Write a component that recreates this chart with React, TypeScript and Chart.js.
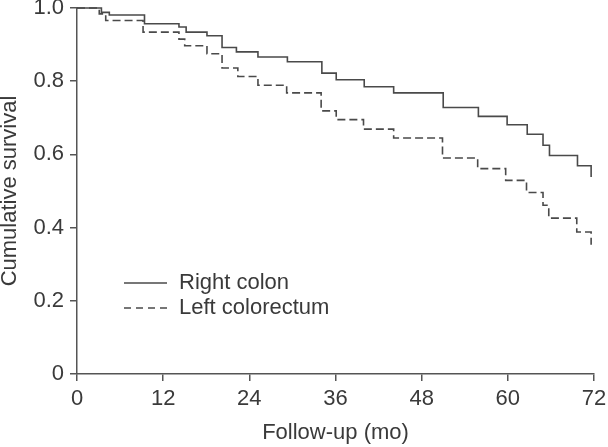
import React, { useEffect, useRef } from "react";
import { Chart, registerables } from "chart.js";

Chart.register(...registerables);

const rightTimes = [0, 3.4, 4.5, 9.4, 14.2, 15.2, 18.1, 20.2, 22.2, 25.2, 29.3, 34.1, 36.1, 40.0, 44.1, 51.0, 55.9, 59.9, 62.7, 64.9, 65.8, 69.7, 71.6];
const rightSurvival = [1.0, 0.988, 0.981, 0.957, 0.948, 0.934, 0.924, 0.892, 0.88, 0.866, 0.853, 0.822, 0.804, 0.785, 0.768, 0.728, 0.704, 0.681, 0.655, 0.625, 0.597, 0.569, 0.538];

const leftTimes = [0, 3.1, 4.0, 9.2, 14.2, 15.0, 18.1, 20.2, 22.4, 25.2, 29.2, 34.0, 36.1, 39.9, 44.1, 50.9, 55.8, 59.7, 62.6, 64.9, 65.7, 69.6, 71.6];
const leftSurvival = [1.0, 0.984, 0.966, 0.934, 0.915, 0.897, 0.875, 0.836, 0.813, 0.789, 0.768, 0.719, 0.695, 0.669, 0.645, 0.59, 0.561, 0.529, 0.496, 0.461, 0.426, 0.388, 0.353];

const seriesNames = ["Right colon", "Left colorectum"];
const xTitle = "Follow-up (mo)";
const yTitle = "Cumulative survival";
const xTickValues = [0, 12, 24, 36, 48, 60, 72];

const FONT = "'Liberation Sans', Arial, sans-serif";
const FS = 22;
const TEXT = "#3a3a3a";
const LINE = "#4a4a4a";
const AXIS = "#555555";

const legendPlugin = {
  id: "innerLegend",
  afterDraw(chart: any) {
    const { ctx, chartArea } = chart;
    const x0 = chartArea.left + 47;
    const x1 = chartArea.left + 90;
    const tx = chartArea.left + 102;
    const rows = [chartArea.top + 275, chartArea.top + 300];
    ctx.save();
    chart.data.datasets.forEach((ds: any, i: number) => {
      const y = rows[i];
      ctx.beginPath();
      ctx.strokeStyle = ds.borderColor;
      ctx.lineWidth = 1.6;
      ctx.setLineDash(i === 1 ? [7, 5] : []);
      ctx.moveTo(x0, y);
      ctx.lineTo(x1, y);
      ctx.stroke();
      ctx.setLineDash([]);
      ctx.fillStyle = TEXT;
      ctx.font = `${FS}px ${FONT}`;
      ctx.textAlign = "left";
      ctx.textBaseline = "middle";
      ctx.fillText(ds.label, tx, y);
    });
    ctx.restore();
  },
};

export default function App() {
  const ref = useRef<HTMLCanvasElement>(null);
  useEffect(() => {
    if (!ref.current) return;
    const chart = new Chart(ref.current, {
      type: "line",
      data: {
        datasets: [
          {
            label: seriesNames[0],
            data: rightTimes.map((t, i) => ({ x: t, y: rightSurvival[i] })),
            borderColor: LINE,
            borderWidth: 1.6,
            pointRadius: 0,
            stepped: "before",
            fill: false,
            clip: false as any,
          },
          {
            label: seriesNames[1],
            data: leftTimes.map((t, i) => ({ x: t, y: leftSurvival[i] })),
            borderColor: LINE,
            borderWidth: 1.6,
            borderDash: [8, 4],
            pointRadius: 0,
            stepped: "before",
            fill: false,
            clip: false as any,
          },
        ],
      },
      options: {
        animation: false,
        responsive: true,
        maintainAspectRatio: false,
        layout: { padding: { left: 0, top: 8, right: 14, bottom: 0 } },
        plugins: { legend: { display: false }, tooltip: { enabled: false } },
        scales: {
          x: {
            type: "linear",
            min: 0,
            max: 72,
            afterBuildTicks: (scale: any) => {
              scale.ticks = xTickValues.map((v) => ({ value: v }));
            },
            afterFit: (scale: any) => {
              scale.height = 73;
              scale.paddingLeft = 0;
              scale.paddingRight = 0;
            },
            ticks: {
              color: TEXT,
              font: { family: FONT, size: FS },
              padding: 5,
              maxRotation: 0,
              autoSkip: false,
            },
            grid: { display: true, drawOnChartArea: false, drawTicks: true, tickLength: 7, color: AXIS, lineWidth: 1.5 },
            border: { display: true, color: AXIS, width: 1.5 },
            title: {
              display: true,
              text: xTitle,
              color: TEXT,
              font: { family: FONT, size: FS, lineHeight: 1 },
              padding: { top: 0, bottom: 3 },
            },
          },
          y: {
            type: "linear",
            min: 0,
            max: 1,
            ticks: {
              stepSize: 0.2,
              color: TEXT,
              font: { family: FONT, size: FS },
              padding: 6,
              callback: (v: any) => (Number(v) === 0 ? "0" : Number(v).toFixed(1)),
            },
            afterFit: (scale: any) => {
              scale.width = 77;
              scale.paddingTop = 0;
              scale.paddingBottom = 0;
            },
            grid: { display: true, drawOnChartArea: false, drawTicks: true, tickLength: 7, color: AXIS, lineWidth: 1.5 },
            border: { display: true, color: AXIS, width: 1.5 },
            title: {
              display: true,
              text: yTitle,
              color: TEXT,
              font: { family: FONT, size: FS, lineHeight: 0.8 },
              padding: { top: 1, bottom: 0 },
            },
          },
        },
      },
      plugins: [legendPlugin],
    });
    return () => chart.destroy();
  }, []);
  return (
    <div style={{ position: "fixed", left: 0, top: 0, width: 608, height: 447, background: "#fff" }}>
      <canvas ref={ref} />
    </div>
  );
}
